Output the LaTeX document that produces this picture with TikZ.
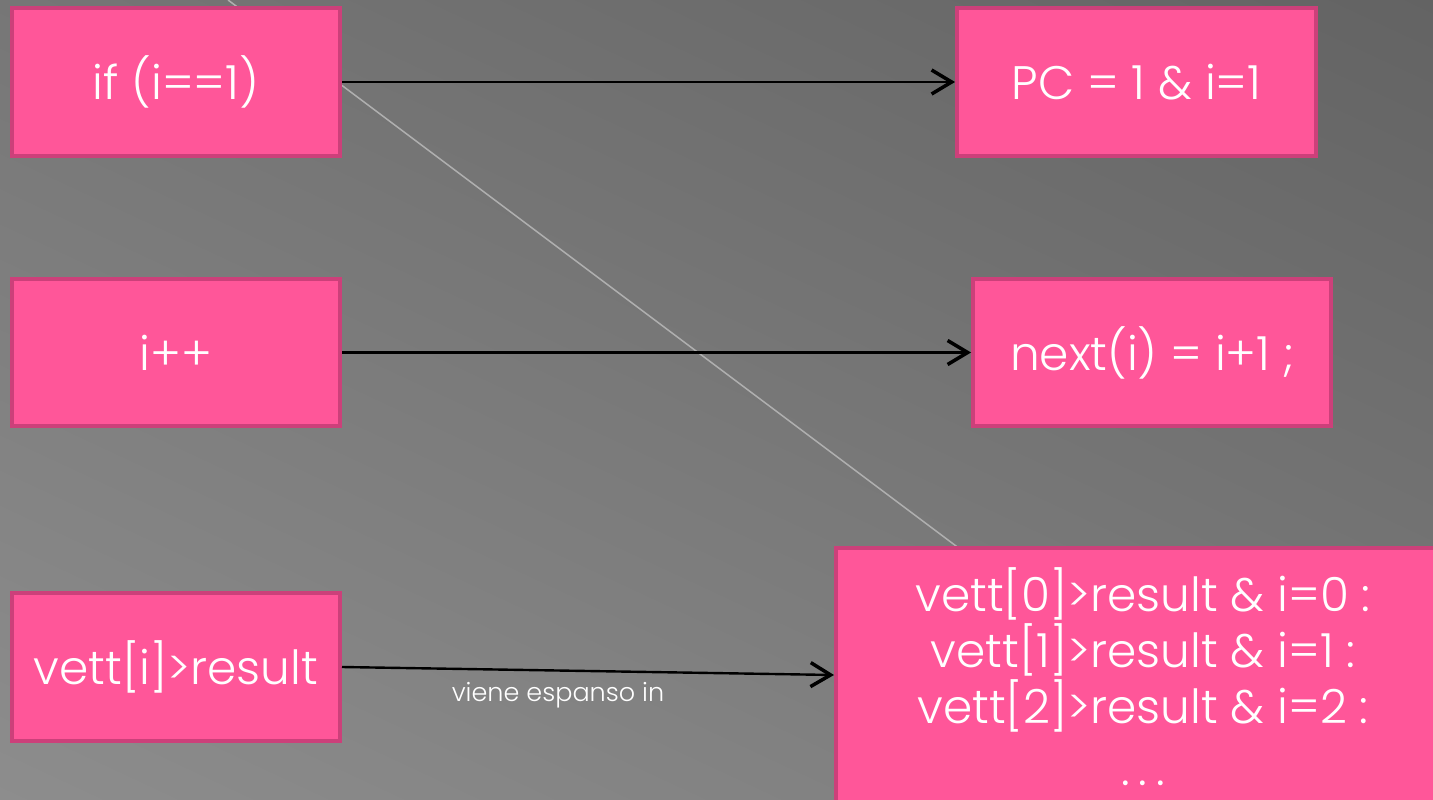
\documentclass[tikz,border=0pt]{standalone}
\usepackage{fontspec}
\setmainfont{Poppins}[UprightFont={* Light}]
\usetikzlibrary{arrows.meta}
\definecolor{boxfill}{RGB}{255,86,153}
\definecolor{boxline}{RGB}{204,64,122}
\definecolor{bgdark}{RGB}{98,98,98}
\definecolor{bglight}{RGB}{142,142,142}
\definecolor{ray}{RGB}{175,175,175}
\tikzset{
  bigtext/.style={text=white, font=\fontsize{47}{56}\selectfont, inner sep=0pt, align=center},
  pinkbox/.style={rectangle, fill=boxfill, draw=boxline, line width=4pt, bigtext},
  flow/.style={draw=black, line width=2.4pt,
    -{Straight Barb[length=20pt,width=24pt,line width=3.5pt]}},
  note/.style={text=white, font=\fontsize{25.5}{28}\selectfont, inner sep=0pt}
}
\begin{document}
\begin{tikzpicture}[x=1pt,y=-1pt]
  \useasboundingbox (0,0) rectangle (1433,800);
  \clip (0,0) rectangle (1433,800);
  % slide background
  \shade[top color=bgdark, bottom color=bglight, shading angle=-25]
    (-200,-200) rectangle (1633,1000);
  % faint diagonal stripe behind the boxes
  \coordinate (r0) at (228,0);
  \coordinate (r1) at (1000,579);
  \draw[ray, line width=1.5pt] (r0) -- (r1);

  % left column
  \node[pinkbox, minimum width=328pt, minimum height=148pt] (b1) at (176,82) {if (i==1)};
  \node[pinkbox, minimum width=328pt, minimum height=147pt] (b3) at (176,352.5) {i++};
  \node[pinkbox, minimum width=328pt, minimum height=148pt] (b5) at (176,667) {vett[i]>result};

  % right column
  \node[pinkbox, minimum width=359pt, minimum height=148pt] (b2) at (1136.5,82) {PC = 1 \& i=1};
  \node[pinkbox, minimum width=358pt, minimum height=147pt] (b4) at (1152,352.5) {next(i) = i+1 ;};
  \node[pinkbox, minimum width=624pt, minimum height=282pt] (b6) at (1148,689) {};
  \node[bigtext, anchor=north] (t6) at (1143,567)
    {vett[0]>result \& i=0 :\\vett[1]>result \& i=1 :\\vett[2]>result \& i=2 :\\[6pt].\hspace{9pt}.\hspace{9pt}.};

  % connectors
  \draw[flow] (b1.east) -- (b2.west);
  \draw[flow] (b3.east) -- (b4.west);
  \draw[flow] (b5.east) -- ([yshift=14pt]b6.west);
  \node[note] (lbl) at (558,695) {viene espanso in};
\end{tikzpicture}
\end{document}
